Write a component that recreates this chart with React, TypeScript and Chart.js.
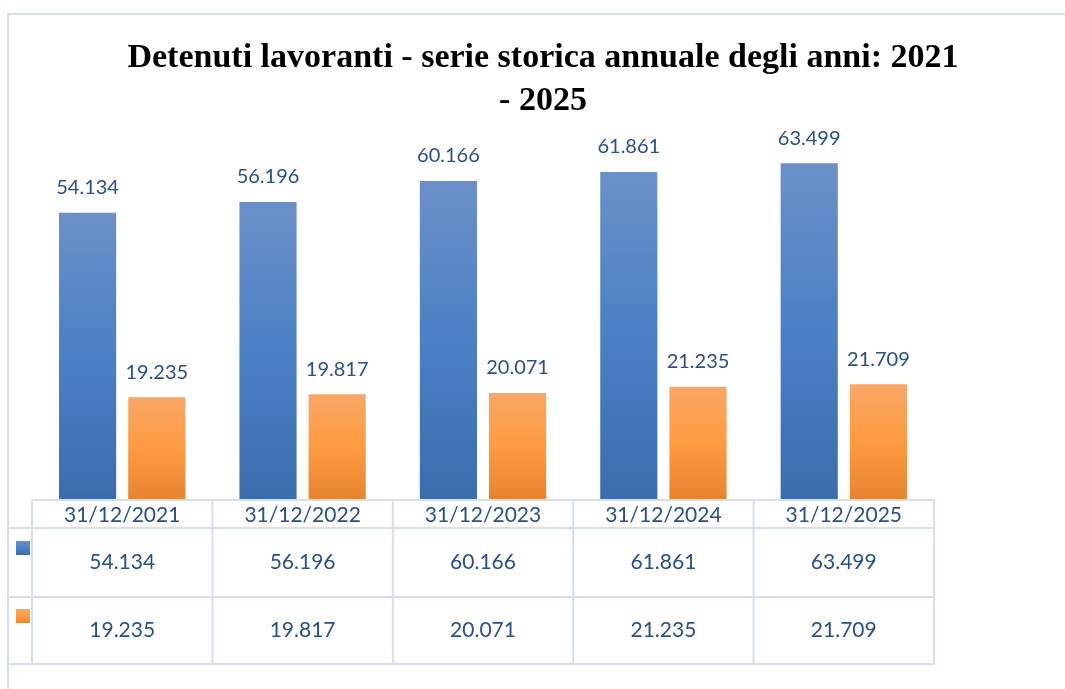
import React, { useEffect, useRef } from 'react';
import { Chart, registerables } from 'chart.js';

Chart.register(...registerables);

const categories = ['31/12/2021', '31/12/2022', '31/12/2023', '31/12/2024', '31/12/2025'];
const seriesLavoranti = [54134, 56196, 60166, 61861, 63499];
const seriesSecondo = [19235, 19817, 20071, 21235, 21709];
const titleLines = ['Detenuti lavoranti - serie storica annuale degli anni: 2021', '- 2025'];
const yMax = 70000;

const LINE = '#D3E0F0';
const TEXT = '#28508A';
const NUM_FONT = 'Lato, "Open Sans", sans-serif';

const fmt = (n: number) => String(n).replace(/\B(?=(\d{3})+(?!\d))/g, '.');

function blueGrad(ctx: CanvasRenderingContext2D, top: number, bottom: number) {
  const g = ctx.createLinearGradient(0, top, 0, bottom);
  g.addColorStop(0, '#6B90C8');
  g.addColorStop(0.5, '#4A80C5');
  g.addColorStop(1, '#3B6DAE');
  return g;
}
function orangeGrad(ctx: CanvasRenderingContext2D, top: number, bottom: number) {
  const g = ctx.createLinearGradient(0, top, 0, bottom);
  g.addColorStop(0, '#F9A666');
  g.addColorStop(0.5, '#FF9B40');
  g.addColorStop(1, '#E7852F');
  return g;
}

function barColor(kind: 'blue' | 'orange') {
  return (c: any) => {
    const chart = c.chart;
    const area = chart.chartArea;
    const y = chart.scales?.y;
    if (!area || !y || c.raw == null) return kind === 'blue' ? '#4A80C5' : '#FF9B40';
    const top = y.getPixelForValue(c.raw);
    const bottom = y.getPixelForValue(0);
    return kind === 'blue' ? blueGrad(chart.ctx, top, bottom) : orangeGrad(chart.ctx, top, bottom);
  };
}

const decorPlugin = {
  id: 'decor',
  afterDraw(chart: any) {
    const ctx: CanvasRenderingContext2D = chart.ctx;
    const xs = chart.scales.x;
    const area = chart.chartArea;
    ctx.save();
    // frame
    ctx.strokeStyle = LINE;
    ctx.lineWidth = 2;
    ctx.beginPath();
    ctx.moveTo(8, 700);
    ctx.lineTo(8, 14);
    ctx.lineTo(1080, 14);
    ctx.stroke();

    // title
    ctx.fillStyle = '#000';
    ctx.font = 'bold 34px "Liberation Serif", serif';
    ctx.textAlign = 'center';
    ctx.textBaseline = 'alphabetic';
    ctx.fillText(titleLines[0], 543, 67);
    ctx.fillText(titleLines[1], 543, 110);

    // data labels
    ctx.textBaseline = 'middle';
    ctx.font = `20px ${NUM_FONT}`;
    ctx.fillStyle = TEXT;
    chart.data.datasets.forEach((ds: any, di: number) => {
      const meta = chart.getDatasetMeta(di);
      meta.data.forEach((el: any, i: number) => {
        ctx.fillText(fmt(ds.data[i]), el.x, el.y - 25);
      });
    });

    // table
    const half = (xs.getPixelForValue(1) - xs.getPixelForValue(0)) / 2;
    const edges: number[] = [];
    categories.forEach((_, i) => edges.push(xs.getPixelForValue(i) - half));
    edges.push(xs.getPixelForValue(categories.length - 1) + half);
    const top = area.bottom + 1;
    const rows = [top, 528, 597, 664];
    const left = area.left;
    const right = area.right;
    ctx.strokeStyle = LINE;
    ctx.lineWidth = 2;
    ctx.beginPath();
    ctx.moveTo(left, rows[0]);
    ctx.lineTo(right, rows[0]);
    for (let r = 1; r < rows.length; r++) {
      ctx.moveTo(8, rows[r]);
      ctx.lineTo(right, rows[r]);
    }
    edges.forEach((e) => {
      ctx.moveTo(e, rows[0]);
      ctx.lineTo(e, rows[3]);
    });
    ctx.stroke();

    ctx.fillStyle = TEXT;
    ctx.font = `21px ${NUM_FONT}`;
    categories.forEach((c, i) => {
      const cx = xs.getPixelForValue(i);
      ctx.fillText(c, cx, (rows[0] + rows[1]) / 2 + 1);
    });
    ctx.font = `21px ${NUM_FONT}`;
    const series = [seriesLavoranti, seriesSecondo];
    series.forEach((s, r) => {
      const cy = (rows[r + 1] + rows[r + 2]) / 2;
      s.forEach((v, i) => {
        ctx.fillText(fmt(v), xs.getPixelForValue(i), cy);
      });
    });
    // legend swatches
    ctx.fillStyle = blueGrad(ctx, 541, 555);
    ctx.fillRect(16, 541, 14, 14);
    ctx.fillStyle = orangeGrad(ctx, 609, 623);
    ctx.fillRect(16, 609, 14, 14);
    ctx.restore();
  },
};

export default function App() {
  const ref = useRef<HTMLCanvasElement | null>(null);
  useEffect(() => {
    if (!ref.current) return;
    const chart = new Chart(ref.current, {
      type: 'bar',
      data: {
        labels: categories,
        datasets: [
          {
            label: 'Serie 1',
            data: seriesLavoranti,
            backgroundColor: barColor('blue'),
            categoryPercentage: 0.767,
            barPercentage: 0.826,
          },
          {
            label: 'Serie 2',
            data: seriesSecondo,
            backgroundColor: barColor('orange'),
            categoryPercentage: 0.767,
            barPercentage: 0.826,
          },
        ],
      },
      options: {
        responsive: false,
        animation: false,
        devicePixelRatio: 1,
        layout: { padding: { left: 32, right: 131, top: 129, bottom: 190 } },
        plugins: { legend: { display: false }, title: { display: false }, tooltip: { enabled: false } },
        scales: {
          x: { display: false, grid: { display: false } },
          y: { display: false, min: 0, max: yMax, grid: { display: false } },
        },
      },
      plugins: [decorPlugin],
    });
    return () => chart.destroy();
  }, []);
  return (
    <div style={{ position: 'fixed', left: 0, top: 0, width: 1065, height: 689, background: '#fff' }}>
      <canvas ref={ref} width={1065} height={689} style={{ display: 'block' }} />
    </div>
  );
}
